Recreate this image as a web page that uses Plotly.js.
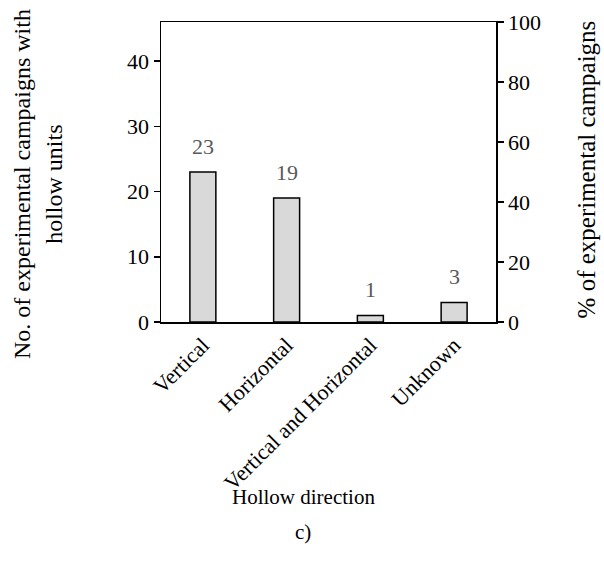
<!DOCTYPE html>
<html>
<head>
<meta charset="utf-8">
<script src="https://cdn.plot.ly/plotly-3.0.1.min.js"></script>
<style>html,body{margin:0;padding:0;background:#fff;}#chart{width:604px;height:569px;}</style>
</head>
<body>
<div id="chart"></div>
<script>
const categories = ["Vertical", "Horizontal", "Vertical and Horizontal", "Unknown"];
const counts = [23, 19, 1, 3];
const leftTicks = [0, 10, 20, 30, 40];
const rightTicks = [0, 20, 40, 60, 80, 100];

const total = counts.reduce((a, b) => a + b, 0);
const percents = counts.map(c => c / total * 100);
const FONT = "Liberation Serif, Times New Roman, serif";
const TICK = 22;

const bars = {
  type: "bar",
  x: categories,
  y: counts,
  marker: { color: "#d9d9d9", line: { color: "#000", width: 1.5 } },
  width: 0.31,
  hoverinfo: "none"
};
// invisible companion on the percentage axis so the right axis is drawn
const pctTrace = {
  type: "scatter", mode: "markers",
  x: categories, y: percents, yaxis: "y2",
  marker: { opacity: 0 }, hoverinfo: "none"
};

const labelAnns = categories.map((c, i) => ({
  x: c, y: counts[i], xref: "x", yref: "y",
  text: String(counts[i]), showarrow: false,
  yanchor: "bottom", yshift: 11,
  font: { family: FONT, size: TICK, color: "#595959" }
}));

const yTitleFont = { family: FONT, size: 24, color: "#000" };
const y2TitleFont = { family: FONT, size: 25, color: "#000" };
const xTitleFont = { family: FONT, size: 21, color: "#000" };

const layout = {
  width: 604, height: 569,
  margin: { l: 161, r: 108, t: 22, b: 247 },
  paper_bgcolor: "#fff", plot_bgcolor: "#fff",
  showlegend: false,
  font: { family: FONT, size: TICK, color: "#000" },
  xaxis: {
    showline: true, linecolor: "#000", linewidth: 1.5, mirror: true,
    ticks: "", tickangle: -45, showgrid: false,
    tickfont: { family: FONT, size: TICK, color: "#000" }
  },
  yaxis: {
    range: [0, total], tickvals: leftTicks,
    showline: true, linecolor: "#000", linewidth: 1.5,
    ticks: "outside", ticklen: 6, tickwidth: 1.5, tickcolor: "#000",
    showgrid: false, zeroline: false,
    tickfont: { family: FONT, size: TICK, color: "#000" }
  },
  yaxis2: {
    overlaying: "y", side: "right", anchor: "x",
    range: [0, 100], tickvals: rightTicks,
    showline: true, linecolor: "#000", linewidth: 1.5,
    ticks: "outside", ticklen: 6, tickwidth: 1.5, tickcolor: "#000",
    showgrid: false, zeroline: false,
    tickfont: { family: FONT, size: TICK, color: "#000" }
  },
  annotations: labelAnns.concat([
    { xref: "paper", yref: "paper", x: -0.415, y: 0.46, xanchor: "center", yanchor: "middle",
      text: "No. of experimental campaigns with", textangle: -90, showarrow: false, font: yTitleFont },
    { xref: "paper", yref: "paper", x: -0.32, y: 0.46, xanchor: "center", yanchor: "middle",
      text: "hollow units", textangle: -90, showarrow: false, font: yTitleFont },
    { xref: "paper", yref: "paper", x: 1.27, y: 0.51, xanchor: "center", yanchor: "middle",
      text: "% of experimental campaigns", textangle: -90, showarrow: false, font: y2TitleFont },
    { xref: "paper", yref: "paper", x: 0.424, y: -0.583, xanchor: "center", yanchor: "middle",
      text: "Hollow direction", showarrow: false, font: xTitleFont },
    { xref: "paper", yref: "paper", x: 0.424, y: -0.70, xanchor: "center", yanchor: "middle",
      text: "c)", showarrow: false, font: xTitleFont }
  ])
};

Plotly.newPlot("chart", [bars, pctTrace], layout, { displayModeBar: false, staticPlot: true });
</script>
</body>
</html>
